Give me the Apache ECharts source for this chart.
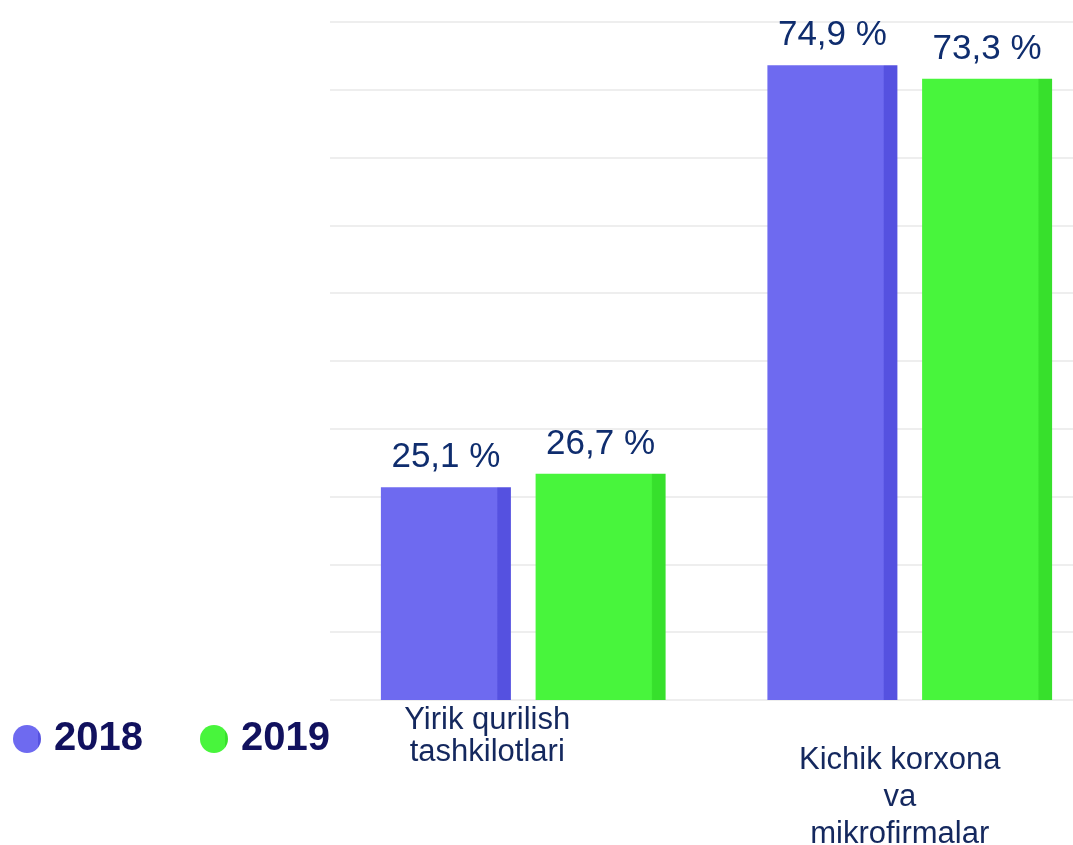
<!DOCTYPE html>
<html>
<head>
    <meta charset="utf-8">
    <title>Qurilish ishlari ulushi</title>
    <script src="https://cdn.jsdelivr.net/npm/echarts@6.0.0/dist/echarts.min.js"></script>
    <style type="text/css">
        html, body {
            margin: 0;
            padding: 0;
            background: #ffffff;
        }
        #chart {
            width: 1073px;
            height: 845px;
        }
    </style>
</head>
<body>
<div id="chart"></div>
<script>
    // kategoriyalar va qiymatlar (%)
    var categories = ['Yirik qurilish\ntashkilotlari', 'Kichik korxona\nva\nmikrofirmalar'];
    var years = ['2018', '2019'];
    var values2018 = [25.1, 74.9];
    var values2019 = [26.7, 73.3];

    var chart = echarts.init(document.getElementById('chart'));

    // old yuz + o'ng tomondagi qoramtir qirra
    function face(main, side) {
        return new echarts.graphic.LinearGradient(0, 0, 1, 0, [
            {offset: 0, color: main},
            {offset: 0.89, color: main},
            {offset: 0.9, color: side},
            {offset: 1, color: side}
        ]);
    }

    function pct(p) {
        return String(p.value).replace('.', ',') + ' %';
    }

    var labelStyle = {
        show: true,
        position: 'top',
        distance: 12,
        fontSize: 35,
        color: '#0f2d6e',
        fontFamily: 'Liberation Sans',
        formatter: pct
    };

    var option = {
        backgroundColor: '#ffffff',
        animation: false,
        color: ['#6e6af0', '#48f53c'],
        textStyle: {fontFamily: 'Liberation Sans'},
        legend: {
            left: 8,
            top: 714,
            icon: 'circle',
            itemWidth: 28,
            itemHeight: 28,
            itemGap: 57,
            data: years,
            textStyle: {
                fontSize: 40,
                fontWeight: 'bold',
                color: '#11115e',
                fontFamily: 'Liberation Sans',
                padding: [0, 0, 0, 8]
            }
        },
        grid: {
            left: 330,
            right: -30,
            top: 22,
            bottom: 145,
            outerBoundsMode: 'none'
        },
        xAxis: {
            type: 'category',
            data: [
                {value: categories[0], textStyle: {padding: [0, 72, 0, 0], lineHeight: 32}},
                {value: categories[1], textStyle: {padding: [38, 20, 0, 0], lineHeight: 37}}
            ],
            axisLine: {show: false},
            axisTick: {show: false},
            axisLabel: {
                margin: 4,
                fontSize: 31,
                color: '#14285e',
                interval: 0
            }
        },
        yAxis: {
            type: 'value',
            min: 0,
            max: 80,
            interval: 8,
            axisLabel: {show: false},
            axisLine: {show: false},
            axisTick: {show: false},
            splitLine: {
                lineStyle: {color: '#eeeeee', width: 2}
            }
        },
        series: [
            {
                name: years[0],
                type: 'bar',
                data: values2018,
                barWidth: 130,
                barGap: '19%',
                itemStyle: {color: face('#6e6af0', '#5551e0')},
                label: labelStyle
            },
            {
                name: years[1],
                type: 'bar',
                data: values2019,
                barWidth: 130,
                itemStyle: {color: face('#48f53c', '#37e02c')},
                label: labelStyle
            }
        ]
    };

    chart.setOption(option);
</script>
</body>
</html>
